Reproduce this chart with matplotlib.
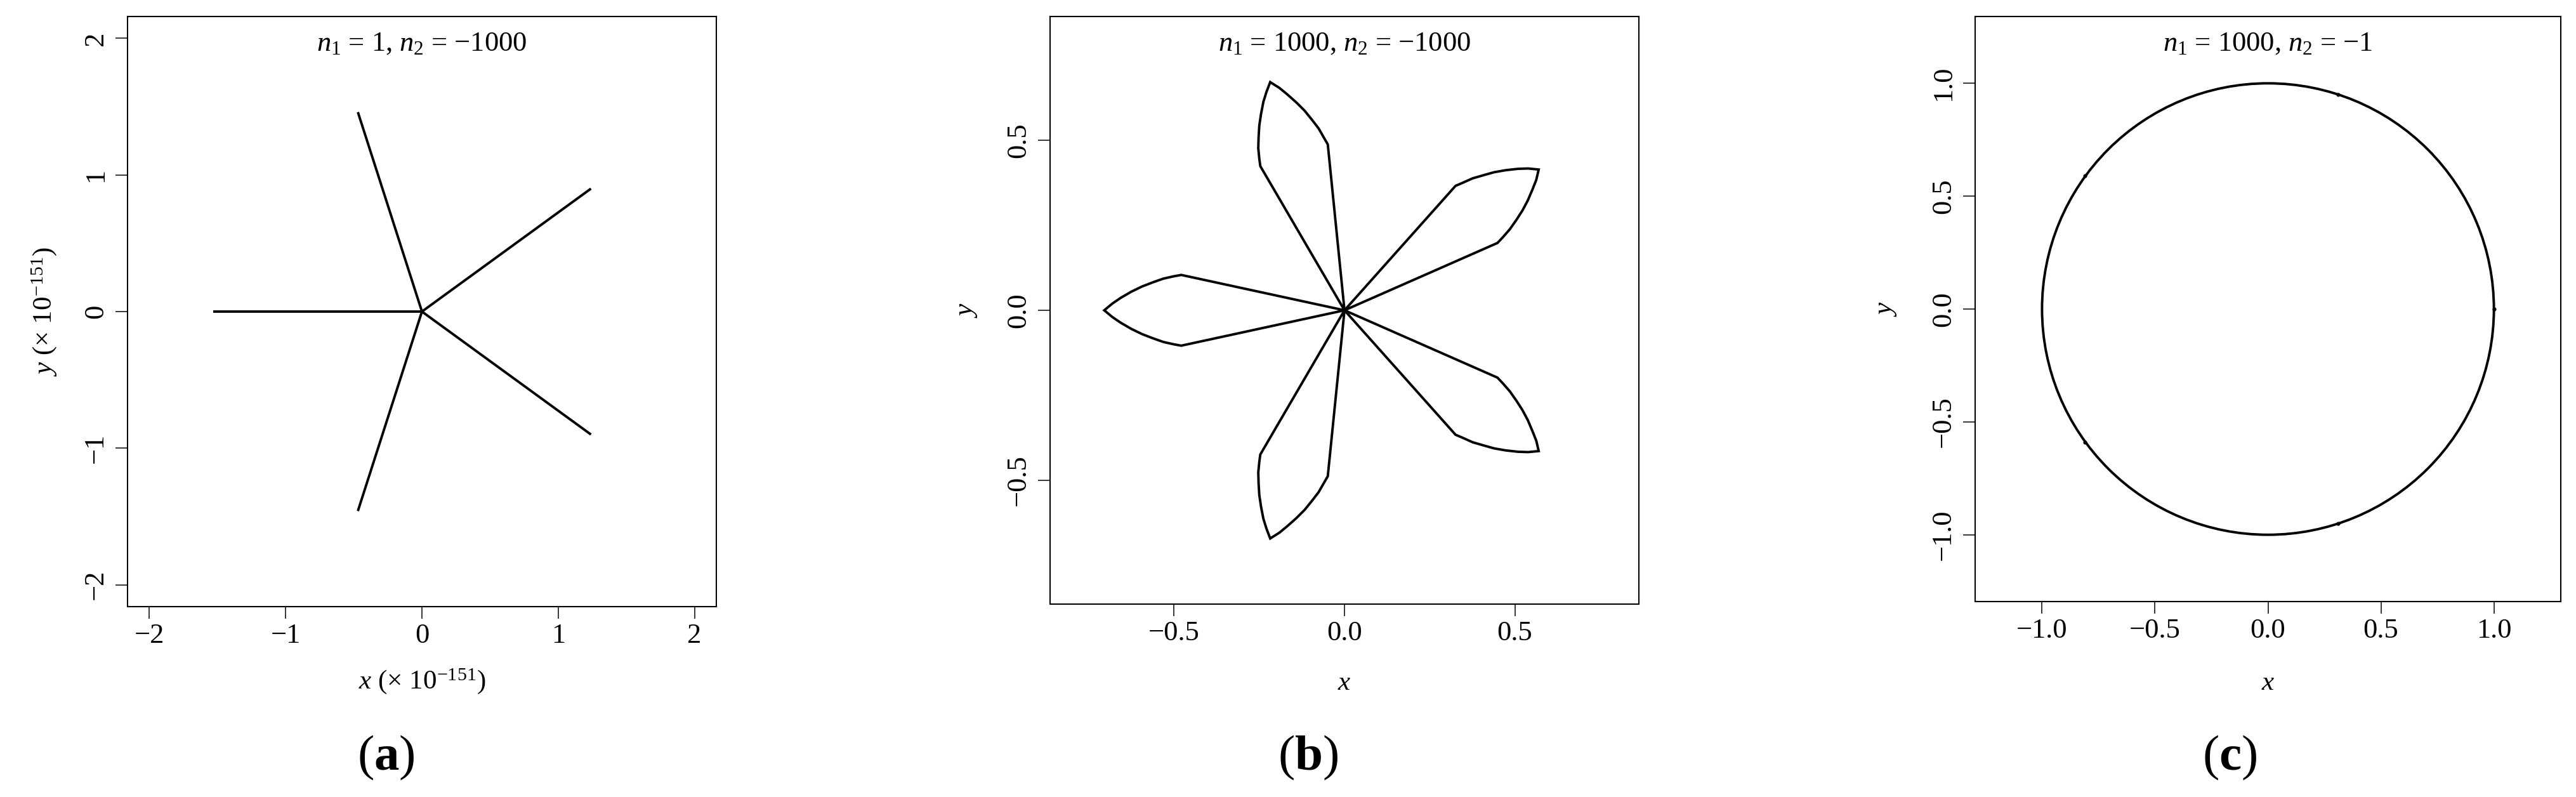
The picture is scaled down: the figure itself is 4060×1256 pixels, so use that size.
import matplotlib
matplotlib.use("Agg")
import matplotlib.pyplot as plt
from matplotlib.patches import Circle

plt.rcParams['font.family'] = ['Liberation Serif', 'DejaVu Serif']
plt.rcParams['mathtext.fontset'] = 'custom'
plt.rcParams['mathtext.rm'] = 'Liberation Serif'
plt.rcParams['mathtext.it'] = 'Liberation Serif:italic'
plt.rcParams['mathtext.bf'] = 'Liberation Serif:bold'

# (a) n1 = 1, n2 = -1000 : five spokes from the origin (units of 1e-151)
spoke_x = [1.24, -0.47, -1.53, -0.47, 1.24]
spoke_y = [0.90, 1.46, 0.00, -1.46, -0.90]

# (b) n1 = 1000, n2 = -1000 : petals, origin -> corner -> arc -> tip -> arc -> corner -> origin
petal_left_x = [0, -0.479, -0.501, -0.532, -0.563, -0.594, -0.625, -0.656, -0.681, -0.705,
                -0.681, -0.656, -0.625, -0.594, -0.563, -0.532, -0.501, -0.479, 0]
petal_left_y = [0, 0.104, 0.100, 0.093, 0.082, 0.070, 0.055, 0.037, 0.020, 0.000,
                -0.020, -0.037, -0.055, -0.070, -0.082, -0.093, -0.100, -0.104, 0]
petal_top_x = [0, -0.049, -0.060, -0.076, -0.096, -0.117, -0.141, -0.168, -0.191, -0.218,
               -0.229, -0.238, -0.245, -0.250, -0.252, -0.253, -0.250, -0.247, 0]
petal_top_y = [0, 0.488, 0.507, 0.535, 0.561, 0.587, 0.611, 0.635, 0.654, 0.671,
               0.642, 0.613, 0.577, 0.543, 0.510, 0.477, 0.446, 0.424, 0]
petal_bottom_x = [0, -0.049, -0.060, -0.076, -0.096, -0.117, -0.141, -0.168, -0.191, -0.218,
                  -0.229, -0.238, -0.245, -0.250, -0.252, -0.253, -0.250, -0.247, 0]
petal_bottom_y = [0, -0.488, -0.507, -0.535, -0.561, -0.587, -0.611, -0.635, -0.654, -0.671,
                  -0.642, -0.613, -0.577, -0.543, -0.510, -0.477, -0.446, -0.424, 0]
petal_ur_x = [0, 0.449, 0.464, 0.485, 0.504, 0.522, 0.538, 0.552, 0.563, 0.570,
              0.539, 0.509, 0.473, 0.439, 0.407, 0.376, 0.347, 0.326, 0]
petal_ur_y = [0, 0.198, 0.214, 0.238, 0.265, 0.293, 0.323, 0.356, 0.384, 0.414,
              0.417, 0.416, 0.412, 0.406, 0.397, 0.388, 0.375, 0.366, 0]
petal_lr_x = [0, 0.449, 0.464, 0.485, 0.504, 0.522, 0.538, 0.552, 0.563, 0.570,
              0.539, 0.509, 0.473, 0.439, 0.407, 0.376, 0.347, 0.326, 0]
petal_lr_y = [0, -0.198, -0.214, -0.238, -0.265, -0.293, -0.323, -0.356, -0.384, -0.414,
              -0.417, -0.416, -0.412, -0.406, -0.397, -0.388, -0.375, -0.366, 0]

# (c) n1 = 1000, n2 = -1 : unit circle with small joins
circle_center = (0.0, 0.0)
circle_radius = 1.0
join_x = [1.00, 0.31, -0.81, -0.81, 0.31]
join_y = [0.00, 0.95, 0.59, -0.59, -0.95]

titles = [r'$n_1$ = 1, $n_2$ = −1000', r'$n_1$ = 1000, $n_2$ = −1000', r'$n_1$ = 1000, $n_2$ = −1']
panel_tags = [r'($\mathbf{a}$)', r'($\mathbf{b}$)', r'($\mathbf{c}$)']

ticks_a = [-2, -1, 0, 1, 2]
ticklabels_a = ['−2', '−1', '0', '1', '2']
ticks_b = [-0.5, 0.0, 0.5]
ticklabels_b = ['−0.5', '0.0', '0.5']
ticks_c = [-1.0, -0.5, 0.0, 0.5, 1.0]
ticklabels_c = ['−1.0', '−0.5', '0.0', '0.5', '1.0']

LW = 2.8
fig = plt.figure(figsize=(40.6, 12.56), dpi=100)
ax_a = fig.add_axes([0.04951, 0.23885, 0.22857, 0.74045])
ax_b = fig.add_axes([0.40764, 0.24204, 0.22857, 0.73726])
ax_c = fig.add_axes([0.76675, 0.24522, 0.22734, 0.73408])


def style(ax, lim, ticks, labels, title, xlab, ylab, xlab_pos, ylab_pos):
    ax.set_xlim(-lim, lim)
    ax.set_ylim(-lim, lim)
    ax.set_xticks(ticks)
    ax.set_xticklabels(labels)
    ax.set_yticks(ticks)
    ax.set_yticklabels(labels)
    ax.tick_params(direction='out', length=13.7, width=1.1, labelsize=32, pad=5)
    ax.tick_params(axis='y', pad=8)
    for lab in ax.get_yticklabels():
        lab.set_rotation(90)
        lab.set_va('center')
        lab.set_ha('right')
    for sp in ax.spines.values():
        sp.set_linewidth(1.5)
    ax.text(0.5, 0.942, title, transform=ax.transAxes, ha='center', va='baseline', fontsize=32)
    ax.text(0.5, xlab_pos, xlab, transform=ax.transAxes, ha='center', va='center', fontsize=31)
    ax.text(ylab_pos, 0.5, ylab, transform=ax.transAxes, ha='center', va='center',
            rotation=90, fontsize=31)


# panel a
for x, y in zip(spoke_x, spoke_y):
    ax_a.plot([0, x], [0, y], color='black', lw=LW, solid_capstyle='butt')
style(ax_a, 2.16, ticks_a, ticklabels_a, titles[0],
      r'$x$ (× 10$^{-151}$)', r'$y$ (× 10$^{-151}$)', -0.126, -0.142)

# panel b
for px, py in [(petal_ur_x, petal_ur_y), (petal_top_x, petal_top_y), (petal_left_x, petal_left_y),
               (petal_bottom_x, petal_bottom_y), (petal_lr_x, petal_lr_y)]:
    ax_b.plot(px, py, color='black', lw=LW, solid_joinstyle='miter')
style(ax_b, 0.864, ticks_b, ticklabels_b, titles[1], r'$x$', r'$y$', -0.135, -0.141)

# panel c
ax_c.add_patch(Circle(circle_center, circle_radius, fill=False, color='black', lw=LW))
ax_c.plot(join_x, join_y, 'o', color='black', markersize=3.4)
style(ax_c, 1.296, ticks_c, ticklabels_c, titles[2], r'$x$', r'$y$', -0.140, -0.152)

for xpos, tag in zip([608, 2062, 3514], panel_tags):
    fig.text(xpos / 4060, 1 - 1213 / 1256, tag, ha='center', va='baseline', fontsize=57)

fig.savefig('out.png', dpi=100)
